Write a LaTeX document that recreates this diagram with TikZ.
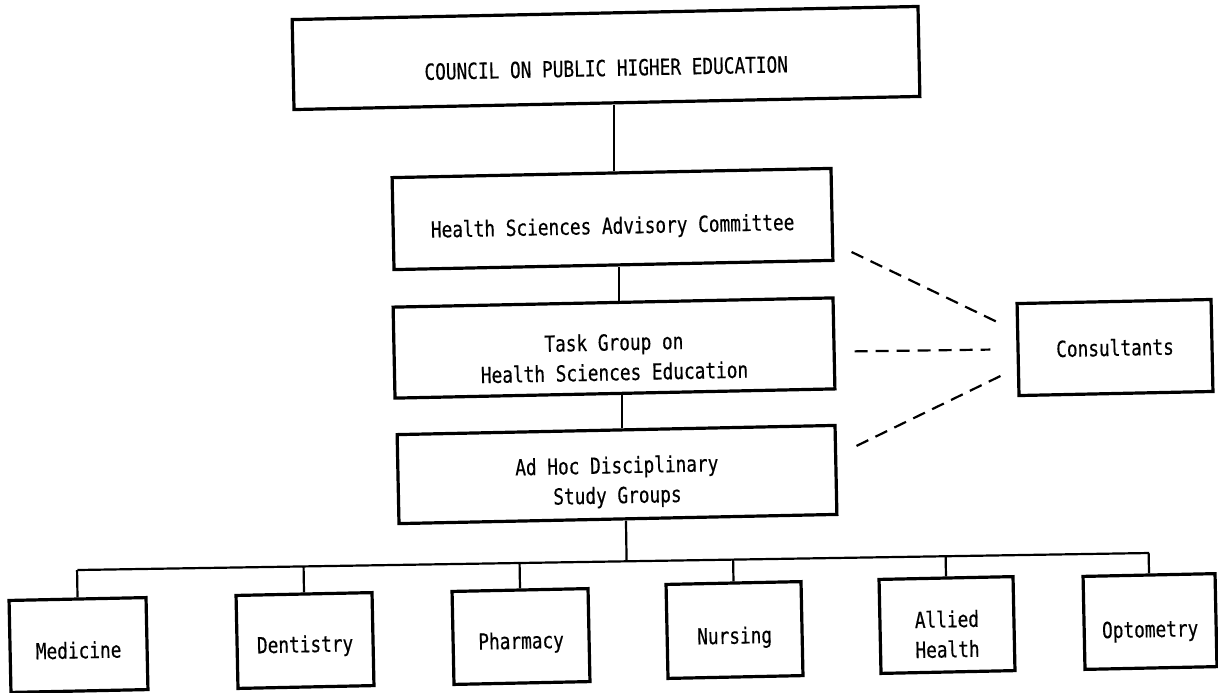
\documentclass[tikz,border=0pt]{standalone}
\usepackage{fontspec}
\newfontfamily\typewriter[FakeStretch=0.8,FakeBold=0.4]{DejaVu Sans Mono}
\usetikzlibrary{calc}
\begin{document}
\begin{tikzpicture}[x=0.5pt,y=-0.5pt,
  unit/.style={draw=black, line width=1.6pt, inner sep=0pt, align=center,
    rotate=1.2, font=\typewriter\fontsize{11.1}{15}\selectfont},
  lowered/.style={text height=#1, text depth=2.6pt},
  link/.style={draw=black, line width=1.1pt},
  advice/.style={draw=black, line width=1.1pt, dash pattern=on 6.5pt off 4pt}]
\useasboundingbox (0,0) rectangle (1218,692);

% upper chain of bodies
\node[unit, lowered=20.7pt, minimum width=313pt, minimum height=45pt] (council) at (606,58)
  {COUNCIL ON PUBLIC HIGHER EDUCATION};
\node[unit, lowered=17.4pt, minimum width=219.5pt, minimum height=46pt] (hsac) at (612.5,219)
  {Health Sciences Advisory Committee};
\node[unit, lowered=35pt, minimum width=220pt, minimum height=45.5pt] (tg) at (614,348)
  {Task Group on\\Health Sciences Education};
\node[unit, lowered=31.4pt, minimum width=219pt, minimum height=44.5pt] (ah) at (617,474.5)
  {Ad Hoc Disciplinary\\Study Groups};
\node[unit, minimum width=97pt, minimum height=46pt] (cons) at (1115,347.5)
  {Consultants};

% disciplinary groups
\node[unit, lowered=16pt, minimum width=68.5pt, minimum height=46pt] (med) at (78.5,645) {Medicine};
\node[unit, lowered=14.4pt, minimum width=68pt, minimum height=46.5pt] (dent) at (305,640.5) {Dentistry};
\node[unit, lowered=14.9pt, minimum width=68pt, minimum height=46.5pt] (pharm) at (521,636.5) {Pharmacy};
\node[unit, lowered=16.3pt, minimum width=67.5pt, minimum height=47pt] (nurs) at (734.5,630) {Nursing};
\node[unit, lowered=35pt, minimum width=67pt, minimum height=47pt] (allied) at (947,625) {Allied\\Health};
\node[unit, lowered=18.3pt, minimum width=66pt, minimum height=46.5pt] (opto) at (1150,621.5) {Optometry};

% vertical line of authority
\draw[link] ([xshift=1.25pt]hsac.north) -- ([xshift=1.25pt]hsac.north |- council.south);
\draw[link] ([xshift=3pt]tg.north) -- ([xshift=3pt]tg.north |- hsac.south);
\draw[link] ([xshift=3pt]ah.north) -- ([xshift=3pt]ah.north |- tg.south);

% distribution bar to the study groups
\coordinate (leftlevel) at (0,570);
\coordinate (rightlevel) at (0,553);
\coordinate (busL) at (med.north |- leftlevel);
\coordinate (busR) at (opto.north |- rightlevel);
\draw[link] (busL) -- (busR);
\draw[link] ([xshift=4pt]ah.south) -- ($(busL)!([xshift=4pt]ah.south)!(busR)$);
\foreach \g in {med,dent,pharm,nurs,allied,opto}
  \draw[link] (\g.north) -- ($(busL)!(\g.north)!(busR)$);

% advisory links to the consultants
\draw[advice] ($(hsac.south east)+(17,-10)$) -- ($(cons.west)+(-16,-26)$);
\draw[advice] ($(tg.east)+(19,8)$) -- ($(cons.west)+(-26,0)$);
\draw[advice] ($(ah.east)+(19,-24)$) -- ($(cons.west)+(-11,24)$);
\end{tikzpicture}
\end{document}
